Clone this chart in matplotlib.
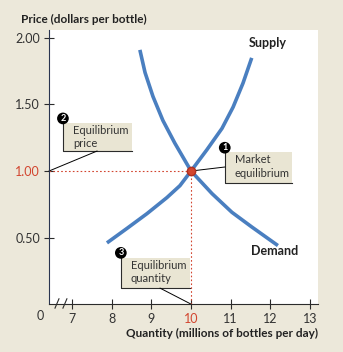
import matplotlib
matplotlib.use('Agg')
from matplotlib import pyplot as plt
from matplotlib.patches import Rectangle

plt.rcParams['font.family'] = ['Lato', 'DejaVu Sans']

# curves (quantity, price)
supply_q = [7.88, 8.39, 8.89, 9.39, 9.72, 10.0, 10.40, 10.78, 11.06, 11.31, 11.53]
supply_p = [0.46, 0.57, 0.68, 0.80, 0.89, 1.0, 1.16, 1.32, 1.48, 1.66, 1.85]
demand_q = [8.71, 8.84, 9.04, 9.29, 9.59, 10.0, 10.53, 11.03, 11.53, 12.19]
demand_p = [1.91, 1.74, 1.56, 1.38, 1.21, 1.0, 0.83, 0.69, 0.58, 0.44]
eq_q, eq_p = 10, 1.00

xticks = [7, 8, 9, 10, 11, 12, 13]
yticks = [0.5, 1.0, 1.5, 2.0]
ylabels = ['0.50', '1.00', '1.50', '2.00']

blue = '#4a7fc0'
red = '#d2452f'
beige = '#e9e5d3'
dark = '#2b2b2b'

fig = plt.figure(figsize=(3.43, 3.52), dpi=100, facecolor='#ece8da')
ax = fig.add_axes([0.143, 0.136, 0.784, 0.779])
ax.set_facecolor('white')
ax.set_xlim(6.42, 13.2)
ax.set_ylim(0, 2.06)
for s in ['top', 'right']:
    ax.spines[s].set_visible(False)
ax.spines['left'].set_color('#2a3550')
ax.spines['bottom'].set_color(dark)

ax.set_xticks(xticks)
ax.set_xticklabels([str(t) for t in xticks])
ax.set_yticks(yticks)
ax.set_yticklabels(ylabels)
ax.tick_params(direction='inout', length=7, width=0.8, color=dark,
               labelsize=9, labelcolor='#333333', pad=3)
ax.get_yticklabels()[1].set_color(red)
ax.get_xticklabels()[3].set_color(red)

# curves
ax.plot(supply_q, supply_p, color=blue, lw=2.6, solid_capstyle='butt',
        solid_joinstyle='round', zorder=3)
ax.plot(demand_q, demand_p, color=blue, lw=2.6, solid_capstyle='butt',
        solid_joinstyle='round', zorder=3)

# equilibrium guides
ax.plot([6.42, eq_q], [eq_p, eq_p], ls=(0, (1.5, 2)), color=red, lw=0.8, zorder=2)
ax.plot([eq_q, eq_q], [0, eq_p], ls=(0, (1.5, 2)), color=red, lw=0.8, zorder=2)
ax.plot(eq_q, eq_p, 'o', ms=6, color=red, mec='#b03020', zorder=5)

# annotation boxes
def note(x0, x1, y0, y1, num, label, lead):
    ax.add_patch(Rectangle((x0, y0), x1 - x0, y1 - y0, facecolor=beige,
                           edgecolor='none', zorder=1))
    ax.plot([x0, x0, x1], [y1 + 0.03, y0, y0], color=dark, lw=0.8, zorder=2)
    ax.plot([lead[0][0], lead[1][0]], [lead[0][1], lead[1][1]],
            color='black', lw=0.7, zorder=2, clip_on=False)
    ax.text(x0, y1 + 0.035, num, ha='center', va='center', fontsize=6.5,
            color='white', fontweight='bold', zorder=6,
            bbox=dict(boxstyle='circle,pad=0.15', fc='black', ec='none'))
    ax.text(x0 + 0.25, y1 - 0.015, label, ha='left', va='top', fontsize=8,
            color='#333333', linespacing=1.25, zorder=4)

note(6.77, 8.51, 1.15, 1.36, '2', 'Equilibrium\nprice',
     [(7.63, 1.15), (6.42, 1.0)])
note(10.85, 12.54, 0.91, 1.14, '1', 'Market\nequilibrium',
     [(10.85, 1.03), (eq_q, eq_p)])
note(8.23, 9.97, 0.12, 0.35, '3', 'Equilibrium\nquantity',
     [(9.22, 0.12), (eq_q, 0.0)])

ax.text(11.45, 1.93, 'Supply', fontsize=9, fontweight='bold', color='#222222')
ax.text(11.52, 0.37, 'Demand', fontsize=9, fontweight='bold', color='#222222')

# axis break and origin label
ax.text(6.19, -0.09, '0', ha='center', va='center', fontsize=9,
        color='#333333', clip_on=False)
for bx in [6.62, 6.82]:
    ax.plot([bx - 0.05, bx + 0.05], [-0.03, 0.04], color=dark, lw=0.8,
            clip_on=False)

fig.text(0.06, 0.945, 'Price (dollars per bottle)', fontsize=8.5,
         fontweight='bold', color='#222222', va='center')
fig.text(0.927, 0.052, 'Quantity (millions of bottles per day)', fontsize=8.5,
         fontweight='bold', color='#222222', ha='right', va='center')

plt.savefig('out.png', dpi=100, facecolor=fig.get_facecolor())
